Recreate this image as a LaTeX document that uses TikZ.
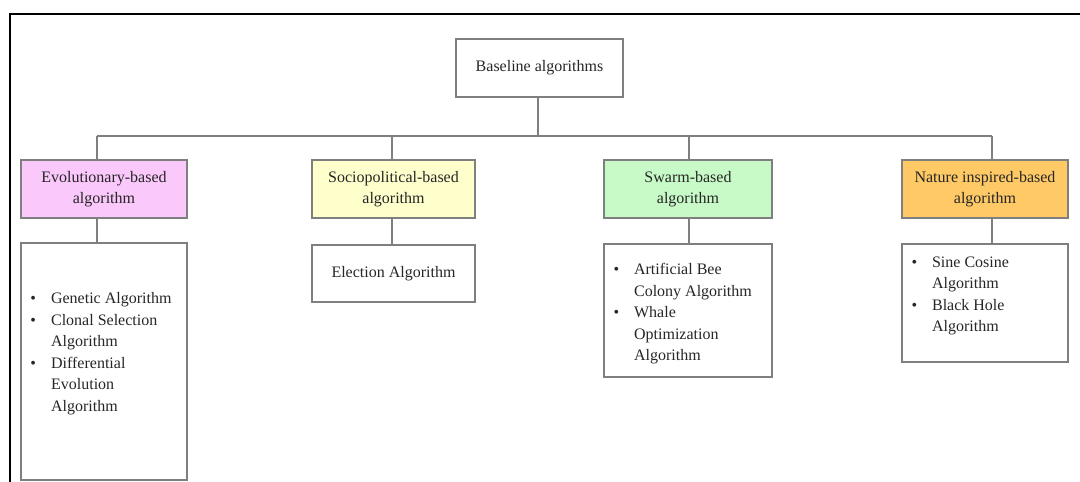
\documentclass[tikz,border=0pt]{standalone}
\usepackage{fontspec}
\setmainfont{Liberation Serif}
\definecolor{boxline}{HTML}{7F7F7F}
\definecolor{pinkfill}{HTML}{FAC8FA}
\definecolor{yellowfill}{HTML}{FFFFCC}
\definecolor{greenfill}{HTML}{C8FAC8}
\definecolor{orangefill}{HTML}{FFC966}
\begin{document}
\begin{tikzpicture}[x=1pt,y=-1pt,
  box/.style={draw=boxline, line width=1.2pt, rectangle, inner sep=0pt,
    minimum width=166pt, align=center, text=black!85,
    font=\fontsize{16}{21.5}\selectfont},
  catbox/.style={box, minimum height=58pt},
  listtext/.style={inner sep=0pt, anchor=north west, align=left, text=black!85,
    font=\fontsize{16}{21.5}\selectfont},
  conn/.style={draw=boxline, line width=1.2pt},
  frameline/.style={draw=black, line width=2pt}
]
\useasboundingbox (0,0) rectangle (1080,482);
% outer frame (cropped)
\coordinate (fbl) at (9.5,490);
\coordinate (ftl) at (9.5,13.5);
\coordinate (ftr) at (1090,13.5);
\draw[frameline] (fbl) -- (ftl) -- (ftr);

% root
\node[catbox, minimum width=167pt] (root) at (539.5,68) {Baseline algorithms};

% categories
\node[catbox, fill=pinkfill] (evo) at (104,189) {Evolutionary-based\\algorithm};
\node[catbox, fill=yellowfill, minimum width=163pt] (soc) at (393.5,189) {Sociopolitical-based\\algorithm};
\node[catbox, fill=greenfill, minimum width=168pt] (swa) at (688,189) {Swarm-based\\algorithm};
\node[catbox, fill=orangefill] (nat) at (985,189) {Nature inspired-based\\algorithm};

% lists
\node[box, minimum height=237pt] (evl) at (104,361.5) {};
\node[box, minimum width=163pt, minimum height=57pt] (ell) at (393.5,273.5) {Election Algorithm};
\node[box, minimum width=168pt, minimum height=133pt] (swl) at (688,310.5) {};
\node[box, minimum height=118pt] (nal) at (985,303) {};

\node[listtext] (evt) at ([xshift=30.5pt,yshift=-50pt]evl.north west)
  {\llap{\textbullet\hspace{15pt}}Genetic Algorithm\\
   \llap{\textbullet\hspace{15pt}}Clonal Selection\\
   Algorithm\\
   \llap{\textbullet\hspace{15pt}}Differential\\
   Evolution\\
   Algorithm};
\node[listtext] (swt) at ([xshift=30.5pt,yshift=-20pt]swl.north west)
  {\llap{\textbullet\hspace{15pt}}Artificial Bee\\
   Colony Algorithm\\
   \llap{\textbullet\hspace{15pt}}Whale\\
   Optimization\\
   Algorithm};
\node[listtext] (natt) at ([xshift=30.5pt,yshift=-13pt]nal.north west)
  {\llap{\textbullet\hspace{15pt}}Sine Cosine\\
   Algorithm\\
   \llap{\textbullet\hspace{15pt}}Black Hole\\
   Algorithm};

% connectors
\coordinate (rj) at (538,136);
\coordinate (j1) at (97,136);
\coordinate (j2) at (392,136);
\coordinate (j3) at (689,136);
\coordinate (j4) at (992,136);
\draw[conn] (rj |- root.south) -- (rj);
\draw[conn] (j1) -- (j4);
\draw[conn] (j1) -- (j1 |- evo.north);
\draw[conn] (j2) -- (j2 |- soc.north);
\draw[conn] (j3) -- (j3 |- swa.north);
\draw[conn] (j4) -- (j4 |- nat.north);
\draw[conn] (j1 |- evo.south) -- (j1 |- evl.north);
\draw[conn] (j2 |- soc.south) -- (j2 |- ell.north);
\draw[conn] (j3 |- swa.south) -- (j3 |- swl.north);
\draw[conn] (j4 |- nat.south) -- (j4 |- nal.north);
\end{tikzpicture}
\end{document}
